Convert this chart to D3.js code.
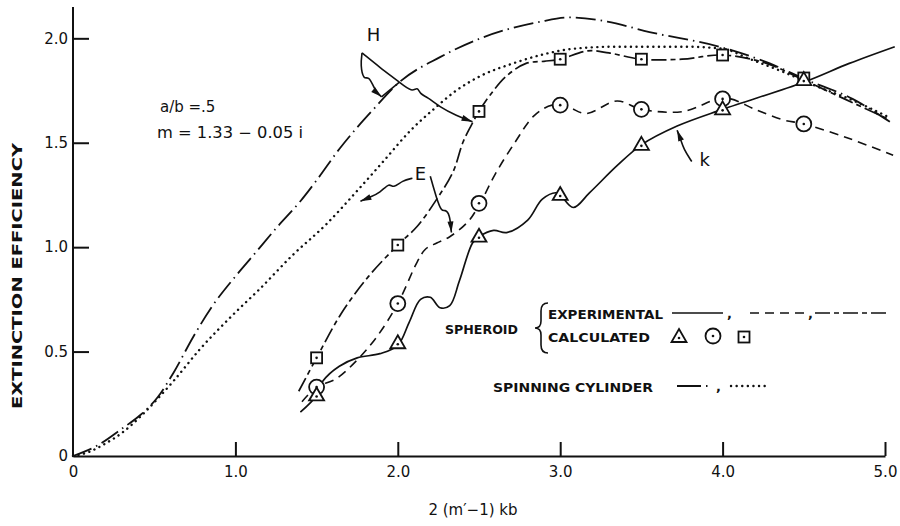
<!DOCTYPE html>
<html>
<head>
<meta charset="utf-8">
<script src="https://cdn.jsdelivr.net/npm/d3@7"></script>
<style>
  body { margin: 0; background: #fff; }
  svg { display: block; }
  text { font-family: "DejaVu Sans", sans-serif; fill: #111; }
  .axis path, .axis line { stroke: #111; stroke-width: 2; }
  .axis text { font-size: 15px; fill: #111; }
</style>
</head>
<body>
<div id="chart"></div>
<script>
// spheroid, experimental (solid) with calculated triangles
const solidCurve = [[1.40,0.21],[1.5,0.29],[1.54,0.36],[1.64,0.43],[1.75,0.47],[1.89,0.49],[2.0,0.53],
  [2.07,0.64],[2.14,0.75],[2.2,0.76],[2.26,0.71],[2.32,0.72],[2.38,0.84],[2.46,1.02],[2.5,1.05],
  [2.59,1.08],[2.67,1.07],[2.8,1.13],[2.89,1.23],[2.98,1.26],[3.08,1.19],[3.18,1.26],[3.35,1.39],
  [3.5,1.49],[3.72,1.58],[4.0,1.66],[4.5,1.79],[4.78,1.88],[5.06,1.96]];
const triangles = [[1.5,0.29],[2.0,0.54],[2.5,1.05],[3.0,1.25],[3.5,1.49],[4.0,1.66],[4.5,1.80]];

// dashed curve with calculated circles
const dashedCurve = [[1.41,0.26],[1.5,0.33],[1.62,0.37],[1.75,0.46],[1.87,0.57],[2.0,0.73],[2.12,0.93],
  [2.17,0.99],[2.24,1.02],[2.32,1.05],[2.43,1.12],[2.5,1.20],[2.6,1.35],[2.72,1.50],[2.84,1.63],
  [2.95,1.68],[3.05,1.67],[3.16,1.64],[3.35,1.70],[3.5,1.66],[3.76,1.65],[3.97,1.71],[4.05,1.71],
  [4.2,1.66],[4.37,1.61],[4.5,1.59],[4.78,1.52],[5.05,1.44]];
const circles = [[1.5,0.33],[2.0,0.73],[2.5,1.21],[3.0,1.68],[3.5,1.66],[4.0,1.71],[4.5,1.59]];

// long-short dashed curve with calculated squares
const longDashCurve = [[1.39,0.31],[1.5,0.47],[1.65,0.68],[1.82,0.86],[2.0,1.01],[2.12,1.10],[2.24,1.23],
  [2.34,1.36],[2.40,1.50],[2.45,1.58],[2.5,1.65],[2.57,1.73],[2.67,1.82],[2.79,1.88],[2.9,1.89],
  [3.0,1.90],[3.17,1.94],[3.3,1.93],[3.5,1.90],[3.75,1.90],[4.0,1.92],[4.27,1.88],[4.5,1.80],
  [4.75,1.71],[5.03,1.61]];
const squares = [[1.5,0.47],[2.0,1.01],[2.5,1.65],[3.0,1.90],[3.5,1.90],[4.0,1.92],[4.5,1.81]];

// spinning cylinder
const cylDashDot = [[0,0],[0.15,0.05],[0.3,0.13],[0.42,0.2],[0.52,0.28],[0.62,0.4],[0.74,0.57],
  [0.86,0.72],[1.0,0.86],[1.12,0.97],[1.25,1.09],[1.4,1.22],[1.5,1.32],[1.64,1.47],[1.85,1.66],
  [2.01,1.79],[2.26,1.91],[2.51,2.0],[2.88,2.08],[3.06,2.10],[3.29,2.08],[3.55,2.03],[3.98,1.96],
  [4.29,1.88],[4.52,1.80],[4.80,1.71],[5.03,1.60]];
const cylDotted = [[0,0],[0.1,0.02],[0.2,0.06],[0.3,0.11],[0.43,0.2],[0.54,0.29],[0.62,0.36],
  [0.78,0.51],[0.99,0.68],[1.15,0.80],[1.35,0.96],[1.56,1.11],[1.75,1.27],[1.91,1.41],[2.08,1.56],
  [2.22,1.66],[2.36,1.75],[2.51,1.82],[2.71,1.88],[2.88,1.92],[3.08,1.95],[3.35,1.96],[3.76,1.96],
  [4.0,1.95],[4.17,1.90],[4.37,1.84],[4.58,1.77],[4.78,1.71],[5.03,1.62]];

const xTicks = [0, 1, 2, 3, 4, 5];
const yTicks = [0, 0.5, 1, 1.5, 2];

// hand drawn leaders for the H, E and k labels
const leaderH1 = [[1.78,1.93],[1.77,1.87],[1.79,1.80],[1.82,1.82],[1.85,1.77],[1.87,1.74],[1.90,1.72]];
const leaderH2 = [[1.78,1.93],[1.89,1.86],[2.01,1.79],[2.09,1.74],[2.12,1.77],[2.14,1.73],[2.18,1.72],
  [2.26,1.67],[2.36,1.63],[2.46,1.60]];
const leaderE1 = [[2.09,1.33],[2.03,1.32],[1.97,1.28],[1.95,1.31],[1.89,1.26],[1.83,1.24],[1.77,1.22]];
const leaderE2 = [[2.20,1.34],[2.24,1.23],[2.27,1.17],[2.29,1.18],[2.32,1.16],[2.33,1.07]];
const leaderK = [[3.81,1.41],[3.76,1.47],[3.74,1.52],[3.72,1.56]];

const width = 900, height = 526;
const svg = d3.select("#chart").append("svg")
  .attr("width", width).attr("height", height);

const x = d3.scaleLinear().domain([0, 5]).range([73, 885]);
const y = d3.scaleLinear().domain([0, 2.15]).range([456, 7]);

// axes
const xAxis = d3.axisBottom(x).tickValues(xTicks).tickSize(-14).tickSizeOuter(0).tickPadding(10)
  .tickFormat(d => d === 0 ? "0" : d.toFixed(1));
const gx = svg.append("g").attr("class", "axis").attr("transform", "translate(0,456)").call(xAxis);
gx.selectAll(".tick").filter(d => d === 0).select("line").remove();

const yAxis = d3.axisLeft(y).tickValues(yTicks).tickSize(-16).tickSizeOuter(0).tickPadding(5)
  .tickFormat(d => d === 0 ? "0" : d.toFixed(1));
const gy = svg.append("g").attr("class", "axis").attr("transform", "translate(73,0)").call(yAxis);
gy.selectAll(".tick").filter(d => d === 0).select("line").remove();
gy.select(".domain").attr("d", `M0,${y(0)}V${y(2.15)}`);

svg.append("text")
  .attr("transform", "translate(22,276) rotate(-90)")
  .attr("text-anchor", "middle")
  .attr("font-size", 14).attr("font-weight", "bold")
  .attr("textLength", 266).attr("lengthAdjust", "spacingAndGlyphs")
  .text("EXTINCTION  EFFICIENCY");

svg.append("text")
  .attr("x", 473).attr("y", 515)
  .attr("text-anchor", "middle").attr("font-size", 15)
  .text("2 (m\u2032\u22121) kb");

// curves
const line = d3.line().x(d => x(d[0])).y(d => y(d[1])).curve(d3.curveCatmullRom.alpha(0.5));
const smooth = d3.line().x(d => x(d[0])).y(d => y(d[1])).curve(d3.curveMonotoneX);

const styles = {
  solid: null,
  dashed: "9,6",
  longShort: "15,4,5,4",
  dashDot: "20,5,1.5,5",
  dotted: "0.1,5.5"
};

function drawCurve(data, dash, w, gen) {
  svg.append("path")
    .datum(data)
    .attr("d", gen || line)
    .attr("fill", "none")
    .attr("stroke", "#111")
    .attr("stroke-width", w || 1.6)
    .attr("stroke-linecap", dash === styles.dotted ? "round" : "butt")
    .attr("stroke-dasharray", dash);
}

drawCurve(cylDashDot, styles.dashDot, 1.8, smooth);
drawCurve(cylDotted, styles.dotted, 2.4, smooth);
drawCurve(longDashCurve, styles.longShort, 1.7);
drawCurve(dashedCurve, styles.dashed, 1.6);
drawCurve(solidCurve, styles.solid, 1.7);

// calculated markers
function marker(g, kind, cx, cy) {
  const m = g.append("g").attr("transform", `translate(${cx},${cy})`);
  if (kind === "tri") {
    m.append("path").attr("d", "M0,-8L7.5,5L-7.5,5Z");
  } else if (kind === "circ") {
    m.append("circle").attr("r", 7.5);
  } else {
    m.append("rect").attr("x", -5.5).attr("y", -5.5).attr("width", 11).attr("height", 11);
  }
  m.selectAll("path,circle,rect").attr("fill", "#fff").attr("stroke", "#111").attr("stroke-width", 1.8);
  m.append("circle").attr("r", 1.3).attr("cy", kind === "tri" ? 1 : 0).attr("fill", "#111");
}

squares.forEach(d => marker(svg, "sq", x(d[0]), y(d[1])));
circles.forEach(d => marker(svg, "circ", x(d[0]), y(d[1])));
triangles.forEach(d => marker(svg, "tri", x(d[0]), y(d[1])));

// annotations
const leaderLine = d3.line().x(d => x(d[0])).y(d => y(d[1])).curve(d3.curveBasis);
function leader(data, arrow) {
  svg.append("path").datum(data).attr("d", leaderLine)
    .attr("fill", "none").attr("stroke", "#111").attr("stroke-width", 1.6);
  if (arrow) {
    const a = data[data.length - 2], b = data[data.length - 1];
    const ang = Math.atan2(y(b[1]) - y(a[1]), x(b[0]) - x(a[0])) * 180 / Math.PI;
    svg.append("path")
      .attr("d", "M0,0L-11,-3L-11,3Z")
      .attr("transform", `translate(${x(b[0])},${y(b[1])}) rotate(${ang})`)
      .attr("fill", "#111");
  }
}
leader(leaderH1, true);
leader([leaderH1[leaderH1.length - 1], [2.01, 1.79]], false);
leader(leaderH2, true);
leader(leaderE1, true);
leader(leaderE2, true);
leader(leaderK, true);

const labels = [["H", 1.85, 1.985], ["E", 2.14, 1.32], ["k", 3.89, 1.39]];
svg.selectAll(".lab").data(labels).join("text")
  .attr("class", "lab")
  .attr("x", d => x(d[1])).attr("y", d => y(d[2]))
  .attr("text-anchor", "middle").attr("font-size", 18)
  .text(d => d[0]);

svg.append("text").attr("x", 160).attr("y", 112).attr("font-size", 15).text("a/b =.5");
svg.append("text").attr("x", 157).attr("y", 138).attr("font-size", 15)
  .attr("textLength", 146).attr("lengthAdjust", "spacingAndGlyphs")
  .text("m = 1.33 \u2212 0.05 i");

// legend
const lg = svg.append("g").attr("font-weight", "bold").attr("font-size", 13);
lg.append("text").attr("x", 445).attr("y", 334).attr("textLength", 73)
  .attr("lengthAdjust", "spacingAndGlyphs").text("SPHEROID");
lg.append("path")
  .attr("d", "M548,303Q541,303 541,311L541,321Q541,328 535,328Q541,328 541,335L541,345Q541,353 548,353")
  .attr("fill", "none").attr("stroke", "#111").attr("stroke-width", 1.6);
lg.append("text").attr("x", 548).attr("y", 319).attr("textLength", 115)
  .attr("lengthAdjust", "spacingAndGlyphs").text("EXPERIMENTAL");
lg.append("text").attr("x", 548).attr("y", 342).attr("textLength", 102)
  .attr("lengthAdjust", "spacingAndGlyphs").text("CALCULATED");
lg.append("text").attr("x", 493).attr("y", 392).attr("textLength", 160)
  .attr("lengthAdjust", "spacingAndGlyphs").text("SPINNING CYLINDER");

function legendLine(x1, x2, yy, dash, w) {
  lg.append("line").attr("x1", x1).attr("x2", x2).attr("y1", yy).attr("y2", yy)
    .attr("stroke", "#111").attr("stroke-width", w || 1.6)
    .attr("stroke-linecap", dash === styles.dotted ? "round" : "butt")
    .attr("stroke-dasharray", dash);
}
legendLine(672, 723, 313, styles.solid);
legendLine(750, 804, 313, styles.dashed);
legendLine(815, 888, 313, styles.longShort);
legendLine(677, 711, 386, "24,5,1.5,5", 1.8);
legendLine(731, 766, 386, styles.dotted, 2.4);
[[727, 318], [808, 318], [716, 391]].forEach(p =>
  lg.append("text").attr("x", p[0]).attr("y", p[1]).attr("font-size", 13).text(","));

marker(lg, "tri", 679, 337);
marker(lg, "circ", 713, 336);
marker(lg, "sq", 744, 337);
</script>
</body>
</html>
